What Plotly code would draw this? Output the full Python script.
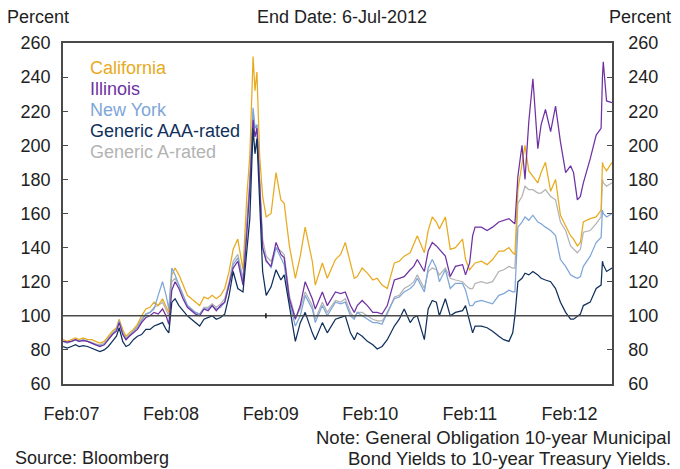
import plotly.graph_objects as go

# ---------------- data (ratio of muni GO 10y yields to 10y Treasury, %) ----------------
dates = [
    "2007-01-01", "2007-01-16", "2007-02-01", "2007-02-16", "2007-03-01", "2007-03-16",
    "2007-04-01", "2007-04-16", "2007-05-01", "2007-05-16", "2007-06-01", "2007-06-16",
    "2007-07-01", "2007-07-16", "2007-07-26", "2007-08-08", "2007-08-20", "2007-09-01",
    "2007-09-16", "2007-10-01", "2007-10-16", "2007-11-01", "2007-11-16", "2007-12-01",
    "2007-12-16", "2008-01-01", "2008-01-14", "2008-01-24", "2008-02-04", "2008-02-16",
    "2008-03-01", "2008-03-16", "2008-04-01", "2008-04-16", "2008-05-01", "2008-05-16",
    "2008-06-01", "2008-06-16", "2008-07-01", "2008-07-16", "2008-08-01", "2008-08-16",
    "2008-09-01", "2008-09-16", "2008-10-03", "2008-10-22", "2008-11-05", "2008-11-16",
    "2008-11-28", "2008-12-05", "2008-12-12", "2008-12-22", "2009-01-02", "2009-01-15",
    "2009-02-02", "2009-02-20", "2009-03-10", "2009-03-22", "2009-04-10", "2009-05-02",
    "2009-05-20", "2009-06-07", "2009-07-03", "2009-07-14", "2009-08-09", "2009-08-27",
    "2009-09-26", "2009-10-15", "2009-11-01", "2009-11-20", "2009-12-04", "2009-12-15",
    "2010-01-02", "2010-01-21", "2010-02-10", "2010-02-26", "2010-03-16", "2010-04-04",
    "2010-04-30", "2010-05-18", "2010-06-05", "2010-06-27", "2010-07-10", "2010-07-23",
    "2010-08-18", "2010-09-01", "2010-09-16", "2010-10-01", "2010-10-12", "2010-11-03",
    "2010-11-21", "2010-12-10", "2011-01-05", "2011-01-16", "2011-01-31", "2011-02-11",
    "2011-02-20", "2011-03-15", "2011-04-05", "2011-04-25", "2011-05-18", "2011-06-05",
    "2011-06-24", "2011-07-08", "2011-07-16", "2011-07-27", "2011-08-11", "2011-08-22",
    "2011-09-05", "2011-09-20", "2011-10-08", "2011-10-20", "2011-11-05", "2011-11-24",
    "2011-12-12", "2011-12-30", "2012-01-18", "2012-02-05", "2012-02-16", "2012-03-01",
    "2012-03-12", "2012-03-23", "2012-04-17", "2012-05-09", "2012-05-27", "2012-06-01",
    "2012-06-04", "2012-06-16", "2012-07-06",
]

california = [
    86, 85, 86, 87, 86, 87, 86, 86, 85, 84, 85, 88,
    91, 93, 98, 92, 88, 90, 92, 95, 100, 104, 105, 108,
    106, 110, 106, 102, 124, 128, 124, 118, 112, 110, 108, 106,
    111, 110, 112, 110, 112, 116, 126, 139, 145, 127, 170, 194,
    252, 232, 243, 194, 170, 158, 160, 184, 168, 166, 141, 122,
    135, 152, 132, 118, 131, 122, 133, 136, 143, 131, 122, 123,
    128, 125, 121, 122, 118, 116, 131, 132, 135, 137, 142, 147,
    137, 150, 158, 155, 151, 158, 139, 140, 145, 133, 127, 129,
    131, 132, 130, 133, 138, 138, 140, 137, 136, 174, 190, 200,
    185, 182, 178, 184, 190, 173, 180, 159, 153, 147, 145, 141,
    143, 155, 157, 158, 162, 190, 188, 185, 190,
]

illinois = [
    85, 84.5, 85, 86, 85, 85.5, 85, 84, 83, 82, 83, 86,
    89, 91, 96, 89, 86, 88, 90, 92, 96, 99, 100, 102,
    101, 104, 100, 95, 115, 120, 116, 110, 105, 103, 101, 100,
    104, 103, 106, 103, 106, 108, 118, 128, 132, 118, 148, 175,
    215, 205, 210, 172, 140, 132, 129, 143, 136, 134, 110, 98,
    106, 120, 110, 104, 114, 106, 114, 113, 114, 106, 102, 106,
    109, 106, 102, 102, 101, 106, 121, 122, 123, 127, 129, 133,
    126, 138, 143, 141, 139, 135, 123, 129, 130, 124, 131, 147,
    152, 152, 150, 152, 155, 156, 157, 155, 154, 182, 200, 180,
    214, 239, 198, 212, 221, 208, 223, 202, 184, 188, 184, 168,
    170, 178, 192, 206, 210, 240, 249, 226, 225,
]

new_york = [
    85, 84, 85, 86, 85, 86, 85, 84, 83, 82.5, 83, 86,
    89, 92, 97, 90, 86, 88, 90, 93, 97, 101, 102, 104,
    112, 120, 112, 104, 128, 124, 118, 112, 106, 104, 102, 101,
    104, 104, 106, 104, 105, 108, 118, 130, 134, 120, 150, 178,
    222, 210, 212, 175, 140, 133, 128, 140, 134, 130, 108, 94,
    100, 112, 104, 96, 106, 100, 108, 107, 108, 100, 98, 102,
    100, 98, 96, 96, 95, 102, 110, 111, 114, 116, 118, 122,
    114, 128, 133, 128, 120, 127, 116, 119, 119, 115, 106, 106,
    108, 109, 108, 107, 112, 113, 115, 114, 114, 152, 155, 158,
    156, 159, 155, 154, 152, 150, 147, 133, 129, 124, 123, 122,
    123, 129, 135, 143, 146, 162, 160, 158, 160,
]

generic_aaa = [
    82, 81, 82, 83, 82, 82.5, 82, 81, 80, 79, 80, 82,
    85, 88, 93, 85, 82, 83, 86, 88, 89, 92, 92, 94,
    95, 96, 92, 90, 108, 110, 106, 103, 100, 98, 96, 94,
    98, 99, 100, 98, 99, 101, 112, 126, 116, 114, 140, 157,
    210, 195, 204, 165, 126, 112, 117, 127, 121, 124, 105, 85,
    96, 102, 90, 86, 96, 90, 98, 99, 100, 90, 86, 90,
    88, 85, 83, 80.5, 82, 86, 94, 98, 104, 96, 99, 100,
    86, 104, 109, 108, 100, 110, 100, 102, 103, 106, 96, 90,
    94, 94, 93, 91, 88, 86, 85, 90, 100, 120, 122, 125,
    124, 126, 124, 122, 121, 120, 116, 108, 102, 98, 98, 100,
    101, 106, 108, 116, 118, 132, 130, 126, 128,
]

generic_a = [
    85, 84.5, 85, 86, 85, 86, 85, 84.5, 83.5, 83, 84, 87,
    90, 92, 97, 90, 87, 89, 91, 94, 98, 101, 102, 105,
    106, 108, 104, 100, 120, 122, 118, 112, 106, 104, 102, 101,
    105, 105, 107, 105, 107, 110, 120, 132, 136, 122, 155, 180,
    220, 210, 212, 178, 145, 135, 132, 140, 138, 136, 112, 99,
    104, 114, 106, 98, 108, 102, 109, 108, 110, 102, 99, 102,
    102, 100, 98, 97, 97, 101, 111, 112, 116, 118, 120, 124,
    116, 126, 128, 127, 124, 128, 122, 121, 120, 118, 116, 116,
    119, 120, 119, 120, 126, 127, 129, 128, 128, 166, 170, 176,
    174, 174, 172, 172, 174, 170, 168, 155, 150, 141, 139, 137,
    139, 149, 150, 154, 158, 180, 178, 176, 178,
]

tick_vals = ["2007-02-01", "2008-02-01", "2009-02-01", "2010-02-01", "2011-02-01", "2012-02-01"]
tick_text = ["Feb:07", "Feb:08", "Feb:09", "Feb:10", "Feb:11", "Feb:12"]

series_names = ["California", "Illinois", "New York", "Generic AAA-rated", "Generic A-rated"]
series_colors = ["#E8AA1E", "#6E31A2", "#7EA6D8", "#10305C", "#B3B3B3"]

# ---------------- figure ----------------
# The page body has an 8px margin, so figure coordinates = screen - 8.
OFF = 8
W, H = 680, 469
SX0, SX1, SY0, SY1 = 63, 612, 43, 384          # plot box on screen
L, T = SX0 - OFF, SY0 - OFF
R, B = W - (SX1 - OFF), H - (SY1 - OFF)
FONT = "Liberation Sans, Arial, sans-serif"
TXT = "#222222"
FRAME = "#4a4a4a"


def px_x(px):
    return (px - SX0) / (SX1 - SX0)


def px_y(py):
    return (SY1 - py) / (SY1 - SY0)


fig = go.Figure()
draw_order = [
    ("Generic A-rated", generic_a),
    ("California", california),
    ("New York", new_york),
    ("Illinois", illinois),
    ("Generic AAA-rated", generic_aaa),
]
color_of = dict(zip(series_names, series_colors))
for name, vals in draw_order:
    fig.add_trace(go.Scatter(
        x=dates, y=vals, mode="lines", name=name,
        line=dict(color=color_of[name], width=1.25),
        showlegend=False,
    ))
# empty trace to activate the right-hand axis
fig.add_trace(go.Scatter(x=[dates[0]], y=[None], yaxis="y2", mode="lines",
                         showlegend=False, hoverinfo="skip"))

axis_common = dict(
    range=[60, 260], dtick=20, tick0=60,
    ticks="inside", ticklen=5, tickwidth=1.2, tickcolor=FRAME,
    showgrid=False, zeroline=False,
    showline=True, linecolor=FRAME, linewidth=1.5,
    tickfont=dict(family=FONT, size=18, color=TXT),
)

fig.update_layout(
    width=W, height=H,
    margin=dict(l=L, r=R, t=T, b=B),
    paper_bgcolor="white", plot_bgcolor="white",
    showlegend=False,
    xaxis=dict(
        type="date", range=["2007-01-01", "2012-07-06"],
        tickvals=tick_vals, ticktext=tick_text, ticks="",
        showgrid=False, zeroline=False,
        showline=True, linecolor=FRAME, linewidth=1.5, mirror=True,
        tickfont=dict(family=FONT, size=18, color=TXT),
        ticklabelstandoff=13,
    ),
    yaxis=dict(**axis_common, side="left", ticklabelstandoff=7),
    yaxis2=dict(**axis_common, side="right", overlaying="y", ticklabelstandoff=11),
)

# 100% reference line
fig.add_shape(type="line", xref="paper", yref="y", x0=0, x1=1, y0=100, y1=100,
              line=dict(color=FRAME, width=1.5))
# small dark marker on the 100 line near Jan 2009 (as in the original)
fig.add_shape(type="line", xref="x", yref="y", x0="2009-01-14", x1="2009-01-14",
              y0=98.5, y1=101.5, line=dict(color="#111111", width=1.5))

# legend as coloured text
legend_y = [68, 89, 110, 131, 152]
for name, py in zip(series_names, legend_y):
    fig.add_annotation(text=name, xref="paper", yref="paper",
                       x=px_x(88), y=px_y(py), xanchor="left", yanchor="middle",
                       showarrow=False,
                       font=dict(family=FONT, size=18, color=color_of[name]))

# header / footer texts (screen pixel positions)
texts = [
    ("Percent", 5, 17, "left", 18),
    ("End Date: 6-Jul-2012", 342, 17, "center", 18),
    ("Percent", 673, 17, "right", 18),
    ("Note: General Obligation 10-year Municipal", 673, 437, "right", 18.5),
    ("Bond Yields to 10-year Treasury Yields.", 673, 458, "right", 18.5),
    ("Source: Bloomberg", 13, 458, "left", 18),
]
for t, px, py, anc, fs in texts:
    fig.add_annotation(text=t, xref="paper", yref="paper",
                       x=px_x(px), y=px_y(py), xanchor=anc, yanchor="middle",
                       showarrow=False,
                       font=dict(family=FONT, size=fs, color=TXT))

fig.write_html("out.html")
